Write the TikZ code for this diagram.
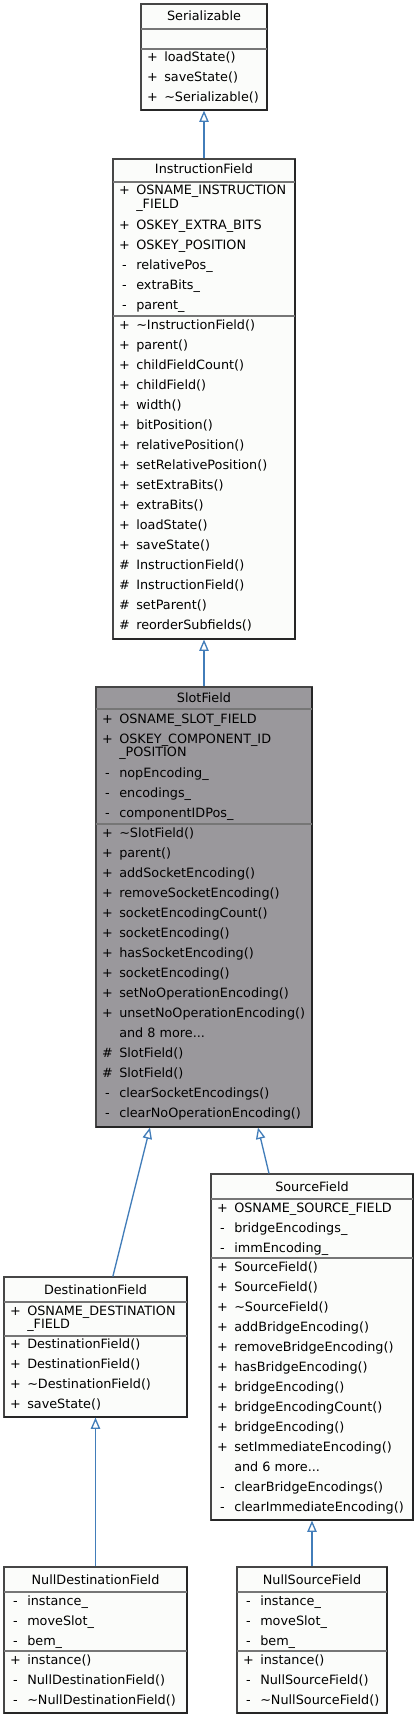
\documentclass[tikz,border=0pt]{standalone}
\usepackage{fontspec}
\setmainfont{DejaVu Sans}
\usetikzlibrary{arrows.meta,fit}
\definecolor{edgeblue}{RGB}{66,125,185}
\definecolor{boxfill}{RGB}{251,252,250}
\definecolor{curfill}{RGB}{154,152,156}
\definecolor{boxline}{RGB}{70,70,70}
\definecolor{sepline}{RGB}{118,118,118}
\newcounter{rowc}
\newcommand\mrow[4]{\stepcounter{rowc}%
  \node[symtxt] (sym\arabic{rowc}) at (#1+11.5,#2+4) {#3};%
  \node[memtxt] (mem\arabic{rowc}) at (#1+23,#2+4) {#4};}
\newcommand\mcont[3]{\stepcounter{rowc}%
  \node[memtxt] (cont\arabic{rowc}) at (#1+23,#2+4) {#3};}
\newcommand\ctitle[3]{\stepcounter{rowc}%
  \node[titletxt] (ttl\arabic{rowc}) at (#1,#2+4) {#3};}
\newcommand\cbox[6]{%
  \node[fit={(#2,#3)(#4,#5)}, inner sep=0pt, fill=#6, draw=boxline, line width=0.8pt] (#1) {};
  \draw[line width=1.2pt, draw=black!85] (#4,#3) -- (#4,#5) -- (#2,#5);}
\newcommand\csep[3]{\draw[sepline, line width=0.8pt] (#1,#3) -- (#2,#3);}
\begin{document}
\begin{tikzpicture}[x=0.75pt,y=-0.75pt,
  every node/.style={font=\fontsize{9.6}{11}\selectfont},
  symtxt/.style={anchor=base, inner sep=0pt},
  memtxt/.style={anchor=base west, inner sep=0pt},
  titletxt/.style={anchor=base, inner sep=0pt},
  inh/.style={draw=edgeblue, line width=1pt, -{Triangle[open, length=8.5pt, width=7pt]}}]
\useasboundingbox (0,0) rectangle (418,1719);

% Serializable
\cbox{ser}{141}{4}{267}{110}{boxfill}
\ctitle{204}{17}{Serializable}
\csep{141}{267}{29}
\csep{141}{267}{49}
\mrow{141}{58}{+}{loadState()}
\mrow{141}{78}{+}{saveState()}
\mrow{141}{98}{+}{\textasciitilde Serializable()}

% InstructionField
\cbox{instr}{113}{159}{295}{639}{boxfill}
\ctitle{204}{170}{InstructionField}
\csep{113}{295}{182}
\mrow{113}{191}{+}{OSNAME\_INSTRUCTION}
\mcont{113}{205}{\_FIELD}
\mrow{113}{225}{+}{OSKEY\_EXTRA\_BITS}
\mrow{113}{245}{+}{OSKEY\_POSITION}
\mrow{113}{265}{-}{relativePos\_}
\mrow{113}{285}{-}{extraBits\_}
\mrow{113}{305}{-}{parent\_}
\csep{113}{295}{316}
\mrow{113}{325}{+}{\textasciitilde InstructionField()}
\mrow{113}{345}{+}{parent()}
\mrow{113}{365}{+}{childFieldCount()}
\mrow{113}{385}{+}{childField()}
\mrow{113}{405}{+}{width()}
\mrow{113}{425}{+}{bitPosition()}
\mrow{113}{445}{+}{relativePosition()}
\mrow{113}{465}{+}{setRelativePosition()}
\mrow{113}{485}{+}{setExtraBits()}
\mrow{113}{505}{+}{extraBits()}
\mrow{113}{525}{+}{loadState()}
\mrow{113}{545}{+}{saveState()}
\mrow{113}{565}{\#}{InstructionField()}
\mrow{113}{585}{\#}{InstructionField()}
\mrow{113}{605}{\#}{setParent()}
\mrow{113}{625}{\#}{reorderSubfields()}

% SlotField
\cbox{slot}{96}{687}{312}{1127}{curfill}
\ctitle{204}{698}{SlotField}
\csep{96}{312}{709}
\mrow{96}{719}{+}{OSNAME\_SLOT\_FIELD}
\mrow{96}{739}{+}{OSKEY\_COMPONENT\_ID}
\mcont{96}{752}{\_POSITION}
\mrow{96}{773}{-}{nopEncoding\_}
\mrow{96}{793}{-}{encodings\_}
\mrow{96}{813}{-}{componentIDPos\_}
\csep{96}{312}{824}
\mrow{96}{833}{+}{\textasciitilde SlotField()}
\mrow{96}{853}{+}{parent()}
\mrow{96}{873}{+}{addSocketEncoding()}
\mrow{96}{893}{+}{removeSocketEncoding()}
\mrow{96}{913}{+}{socketEncodingCount()}
\mrow{96}{933}{+}{socketEncoding()}
\mrow{96}{953}{+}{hasSocketEncoding()}
\mrow{96}{973}{+}{socketEncoding()}
\mrow{96}{993}{+}{setNoOperationEncoding()}
\mrow{96}{1013}{+}{unsetNoOperationEncoding()}
\mcont{96}{1033}{and 8 more...}
\mrow{96}{1053}{\#}{SlotField()}
\mrow{96}{1073}{\#}{SlotField()}
\mrow{96}{1093}{-}{clearSocketEncodings()}
\mrow{96}{1113}{-}{clearNoOperationEncoding()}

% SourceField
\cbox{src}{211}{1174}{413}{1520}{boxfill}
\ctitle{312}{1187}{SourceField}
\csep{211}{413}{1199}
\mrow{211}{1208}{+}{OSNAME\_SOURCE\_FIELD}
\mrow{211}{1228}{-}{bridgeEncodings\_}
\mrow{211}{1248}{-}{immEncoding\_}
\csep{211}{413}{1258}
\mrow{211}{1267}{+}{SourceField()}
\mrow{211}{1287}{+}{SourceField()}
\mrow{211}{1307}{+}{\textasciitilde SourceField()}
\mrow{211}{1327}{+}{addBridgeEncoding()}
\mrow{211}{1347}{+}{removeBridgeEncoding()}
\mrow{211}{1367}{+}{hasBridgeEncoding()}
\mrow{211}{1387}{+}{bridgeEncoding()}
\mrow{211}{1407}{+}{bridgeEncodingCount()}
\mrow{211}{1427}{+}{bridgeEncoding()}
\mrow{211}{1447}{+}{setImmediateEncoding()}
\mcont{211}{1467}{and 6 more...}
\mrow{211}{1487}{-}{clearBridgeEncodings()}
\mrow{211}{1507}{-}{clearImmediateEncoding()}

% DestinationField
\cbox{dest}{4}{1277}{187}{1417}{boxfill}
\ctitle{95.5}{1290}{DestinationField}
\csep{4}{187}{1302}
\mrow{4}{1311}{+}{OSNAME\_DESTINATION}
\mcont{4}{1324}{\_FIELD}
\csep{4}{187}{1336}
\mrow{4}{1344}{+}{DestinationField()}
\mrow{4}{1364}{+}{DestinationField()}
\mrow{4}{1384}{+}{\textasciitilde DestinationField()}
\mrow{4}{1404}{+}{saveState()}

% NullDestinationField
\cbox{ndest}{4}{1567}{187}{1713}{boxfill}
\ctitle{95.5}{1580}{NullDestinationField}
\csep{4}{187}{1592}
\mrow{4}{1601}{-}{instance\_}
\mrow{4}{1621}{-}{moveSlot\_}
\mrow{4}{1641}{-}{bem\_}
\csep{4}{187}{1651}
\mrow{4}{1660}{+}{instance()}
\mrow{4}{1680}{-}{NullDestinationField()}
\mrow{4}{1700}{-}{\textasciitilde NullDestinationField()}

% NullSourceField
\cbox{nsrc}{237}{1567}{387}{1713}{boxfill}
\ctitle{312}{1580}{NullSourceField}
\csep{237}{387}{1592}
\mrow{237}{1601}{-}{instance\_}
\mrow{237}{1621}{-}{moveSlot\_}
\mrow{237}{1641}{-}{bem\_}
\csep{237}{387}{1651}
\mrow{237}{1660}{+}{instance()}
\mrow{237}{1680}{-}{NullSourceField()}
\mrow{237}{1700}{-}{\textasciitilde NullSourceField()}

% inheritance connectors
\draw[inh] (instr.north) -- (ser.south);
\draw[inh] (slot.north) -- (instr.south);
\draw[inh] ([xshift=13pt]dest.north) -- ([xshift=-40.5pt]slot.south);
\draw[inh] ([xshift=-32.25pt]src.north) -- ([xshift=40.5pt]slot.south);
\draw[inh] (ndest.north) -- (dest.south);
\draw[inh] (nsrc.north) -- (src.south);
\end{tikzpicture}
\end{document}
